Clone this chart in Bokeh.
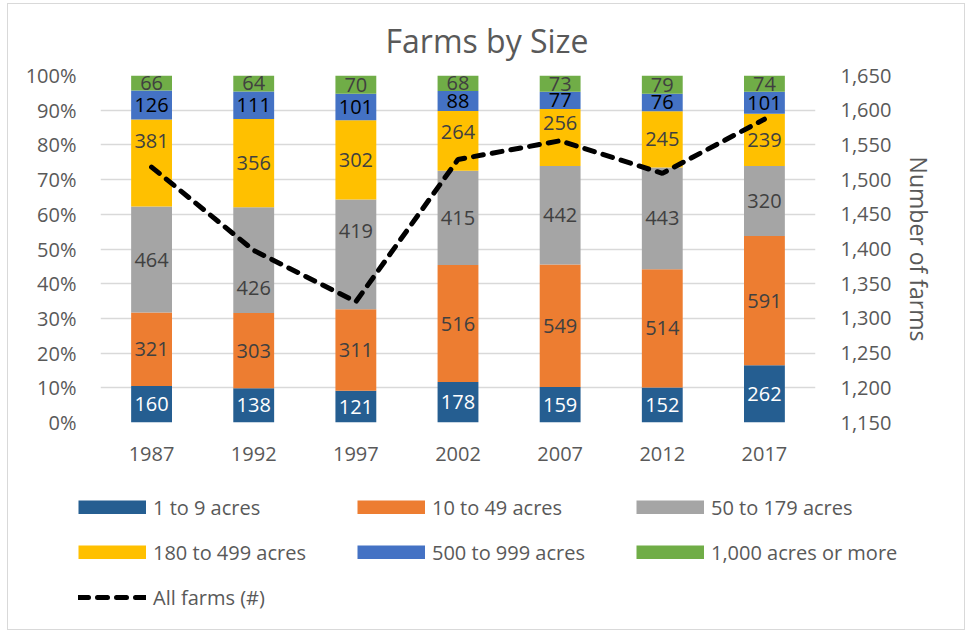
from bokeh.plotting import figure
from bokeh.layouts import column
from bokeh.models import (ColumnDataSource, FactorRange, Range1d, LinearAxis, FixedTicker,
                          NumeralTickFormatter, LabelSet, Legend, LegendItem)
from bokeh.core.properties import value
from bokeh.embed import file_html
from bokeh.resources import INLINE

# ---- data ----
years = ["1987", "1992", "1997", "2002", "2007", "2012", "2017"]
series_names = ["1 to 9 acres", "10 to 49 acres", "50 to 179 acres",
                "180 to 499 acres", "500 to 999 acres", "1,000 acres or more"]
acres_1_9 = [160, 138, 121, 178, 159, 152, 262]
acres_10_49 = [321, 303, 311, 516, 549, 514, 591]
acres_50_179 = [464, 426, 419, 415, 442, 443, 320]
acres_180_499 = [381, 356, 302, 264, 256, 245, 239]
acres_500_999 = [126, 111, 101, 88, 77, 76, 101]
acres_1000_plus = [66, 64, 70, 68, 73, 79, 74]
all_farms = [1518, 1398, 1324, 1529, 1556, 1509, 1587]
pct_ticks = [0, 0.1, 0.2, 0.3, 0.4, 0.5, 0.6, 0.7, 0.8, 0.9, 1.0]
count_ticks = [1150, 1200, 1250, 1300, 1350, 1400, 1450, 1500, 1550, 1600, 1650]

# ---- styles ----
colors = ["#255E91", "#ED7D31", "#A5A5A5", "#FFC000", "#4472C4", "#70AD47"]
label_colors = ["#FFFFFF", "#404040", "#404040", "#404040", "#000000", "#404040"]
# hand-placed data labels in the original (screen px, + = up): (series index, year) -> nudge
label_nudge = {(3, "1987"): 22, (3, "2002"): 9, (3, "2007"): 14,
               (2, "1992"): -28, (2, "1997"): 23}
FONT = "Open Sans"
TXT = "#595959"
EDGE = "#D9D9D9"
LINE_KW = dict(line_color="black", line_width=5, line_dash="10 9", line_cap="round")

series = [acres_1_9, acres_10_49, acres_50_179, acres_180_499, acres_500_999, acres_1000_plus]
totals = [sum(s[i] for s in series) for i in range(len(years))]
keys = ["s%d" % k for k in range(len(series))]

data = {"x": years}
for k, s in zip(keys, series):
    data[k] = [v / t for v, t in zip(s, totals)]
src = ColumnDataSource(data)

lx, ly, lt, lc, lo = [], [], [], [], []
for i, y in enumerate(years):
    base = 0.0
    for k, s in enumerate(series):
        f = s[i] / totals[i]
        lx.append(y)
        ly.append(base + f / 2)
        lt.append(str(s[i]))
        lc.append(label_colors[k])
        lo.append(label_nudge.get((k, y), 0))
        base += f
lab_src = ColumnDataSource(dict(x=lx, y=ly, text=lt, color=lc, off=lo))

W = 958
p = figure(x_range=FactorRange(*years), y_range=Range1d(0, 1),
           width=W, height=479, output_backend="svg", toolbar_location=None,
           min_border_left=93, min_border_right=150, min_border_top=72, min_border_bottom=60)
p.frame_align = False
p.outline_line_color = None
p.border_fill_color = None
p.styles = {"box-shadow": f"inset 1px 1px 0 0 {EDGE}, inset -1px 0 0 0 {EDGE}"}
p.extra_y_ranges = {"total": Range1d(1150, 1650)}

rs = p.vbar_stack(keys, x="x", width=0.4, fill_color=colors, line_color=None, source=src)

line_r = p.line(x=years, y=all_farms, y_range_name="total", **LINE_KW)

labels = LabelSet(x="x", y="y", text="text", text_color="color", source=lab_src,
                  y_offset="off", text_align="center", text_baseline="middle",
                  text_font=value(FONT), text_font_size="20px")
p.add_layout(labels)

# axes
p.yaxis.ticker = FixedTicker(ticks=pct_ticks)
p.yaxis.formatter = NumeralTickFormatter(format="0%")
for ax in [p.yaxis[0], p.xaxis[0]]:
    ax.axis_line_color = None
    ax.major_tick_line_color = None
    ax.minor_tick_line_color = None
    ax.major_label_text_font = FONT
    ax.major_label_text_font_size = "20px"
    ax.major_label_text_color = TXT
p.yaxis.major_label_standoff = 18
p.xaxis.major_label_standoff = 18

ra = LinearAxis(y_range_name="total", ticker=FixedTicker(ticks=count_ticks),
                formatter=NumeralTickFormatter(format="0,0"),
                axis_label="Number of farms")
ra.axis_line_color = None
ra.major_tick_line_color = None
ra.minor_tick_line_color = None
ra.major_label_text_font = FONT
ra.major_label_text_font_size = "20px"
ra.major_label_text_color = TXT
ra.major_label_standoff = 19
ra.axis_label_text_font = FONT
ra.axis_label_text_font_size = "23px"
ra.axis_label_text_font_style = "normal"
ra.axis_label_text_color = TXT
ra.axis_label_standoff = 9
p.add_layout(ra, "right")

p.xgrid.grid_line_color = None
p.ygrid.grid_line_color = EDGE
p.ygrid.grid_line_width = 1.5
p.ygrid.ticker = FixedTicker(ticks=pct_ticks)

# title
p.title.text = "Farms by Size"
p.title.text_font = FONT
p.title.text_font_size = "32px"
p.title.text_font_style = "normal"
p.title.text_color = TXT
p.title.align = "left"
p.title.vertical_align = "top"
p.title.offset = 285
p.title.standoff = 24

# legend panel (own canvas below the chart; its swatch glyphs lie outside the view)
pl = figure(width=W, height=148, output_backend="svg", toolbar_location=None,
            x_range=Range1d(0, 1), y_range=Range1d(0, 1),
            min_border_left=0, min_border_right=0, min_border_top=0, min_border_bottom=0)
pl.frame_align = False
pl.axis.visible = False
pl.grid.visible = False
pl.outline_line_color = None
pl.border_fill_color = None
pl.background_fill_color = None
pl.styles = {"box-shadow": f"inset 1px -1px 0 0 {EDGE}, inset -1px 0 0 0 {EDGE}"}
hidden = ColumnDataSource(dict(x=[5, 6], y=[1, 1]))
leg_rs = [pl.line(x="x", y="y", line_width=14, line_color=c, line_cap="butt", source=hidden)
          for c in colors]
leg_line = pl.line(x="x", y="y", source=hidden, **LINE_KW)

items = [LegendItem(label=n, renderers=[r]) for n, r in zip(series_names, leg_rs)]
items.append(LegendItem(label="All farms (#)", renderers=[leg_line]))
leg = Legend(items=items, orientation="horizontal", ncols=3,
             location=(71, 10.5), padding=0, margin=0, spacing=0,
             glyph_width=68, glyph_height=14, label_width=204, label_height=45,
             label_standoff=7, border_line_color=None, background_fill_alpha=0,
             label_text_font=FONT, label_text_font_size="20px", label_text_color=TXT)
pl.add_layout(leg, "center")

layout = column(p, pl, spacing=0)
layout.styles = {"margin-left": "7px", "margin-top": "3px"}

open("out.html", "w").write(file_html(layout, INLINE))
